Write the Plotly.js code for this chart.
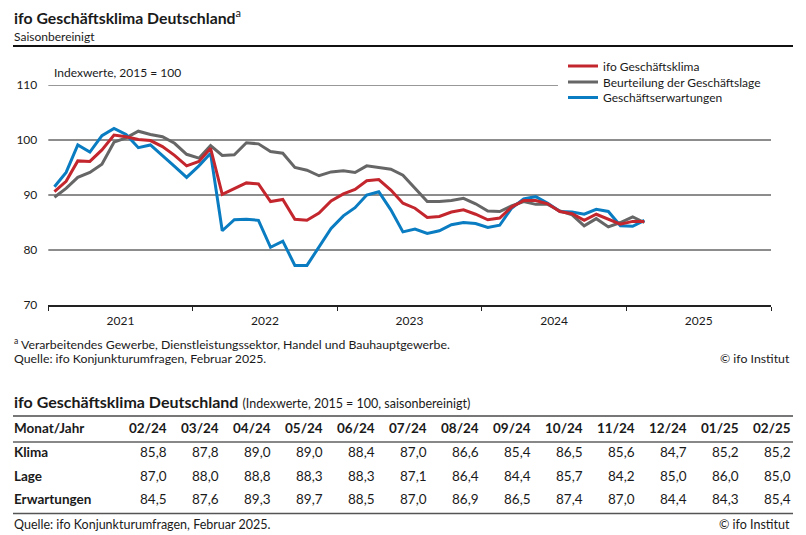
<!DOCTYPE html>
<html>
<head>
<meta charset="utf-8">
<script src="https://cdn.plot.ly/plotly-3.0.1.min.js"></script>
<style>
  html, body { margin: 0; padding: 0; background: #fff; }
  #chart { width: 806px; height: 535px; }
</style>
</head>
<body>
<div id="chart"></div>
<script>
// ---------- DATA ----------
const startYear = 2021;           // first month: Jan 2021
const monthCount = 50;            // through Feb 2025

// Table (Feb 2024 – Feb 2025)
const tableMonths = ["02/24","03/24","04/24","05/24","06/24","07/24","08/24","09/24","10/24","11/24","12/24","01/25","02/25"];
const tableKlima = [85.8, 87.8, 89.0, 89.0, 88.4, 87.0, 86.6, 85.4, 86.5, 85.6, 84.7, 85.2, 85.2];
const tableLage = [87.0, 88.0, 88.8, 88.3, 88.3, 87.1, 86.4, 84.4, 85.7, 84.2, 85.0, 86.0, 85.0];
const tableErwartungen = [84.5, 87.6, 89.3, 89.7, 88.5, 87.0, 86.9, 86.5, 87.4, 87.0, 84.4, 84.3, 85.4];

// Chart series, Jan 2021 – Jan 2024, then the table months
const klimaEarly = [90.6, 92.5, 96.2, 96.1, 98.2, 100.9, 100.6, 100.1, 99.9, 98.8, 97.2, 95.3,
                    96.1, 98.5, 90.1, 91.2, 92.2, 92.0, 88.8, 89.2, 85.6, 85.4, 86.7, 88.9,
                    90.2, 91.0, 92.6, 92.8, 90.9, 88.5, 87.6, 85.9, 86.1, 86.9, 87.3, 86.5,
                    85.5];
const lageEarly = [89.6, 91.2, 93.2, 94.1, 95.6, 99.6, 100.4, 101.6, 101.0, 100.6, 99.4, 97.4,
                   96.7, 99.0, 97.2, 97.3, 99.5, 99.3, 97.9, 97.6, 95.0, 94.5, 93.5, 94.2,
                   94.4, 94.1, 95.3, 95.0, 94.7, 93.6, 91.3, 88.8, 88.8, 89.0, 89.4, 88.4,
                   87.1];
const erwartungenEarly = [91.5, 94.1, 99.1, 97.8, 100.8, 102.1, 101.0, 98.6, 99.1, 97.2, 95.2, 93.2,
                          95.3, 97.6, 83.5, 85.5, 85.6, 85.4, 80.5, 81.6, 77.2, 77.2, 80.6, 83.9,
                          86.2, 87.7, 90.0, 90.6, 87.3, 83.3, 83.8, 83.0, 83.5, 84.6, 85.0, 84.8,
                          84.1];

const klima = klimaEarly.concat(tableKlima);
const lage = lageEarly.concat(tableLage);
const erwartungen = erwartungenEarly.concat(tableErwartungen);

const seriesNames = ["ifo Geschäftsklima", "Beurteilung der Geschäftslage", "Geschäftserwartungen"];
const yTicks = [70, 80, 90, 100, 110];

// ---------- BUILD ----------
const months = [];
for (let i = 0; i < monthCount; i++) {
  const y = startYear + Math.floor(i / 12);
  const m = (i % 12) + 1;
  months.push(y + "-" + (m < 10 ? "0" + m : m) + "-01");
}

const W = 806, H = 535;
const px = x => x / W;
const py = y => 1 - y / H;
const FONT = "Lato";
const INK = "#1a1a1a";

const RED = "#c4262e", GRAY = "#666666", BLUE = "#0a7cc1";

function line(name, ys, color, legendId) {
  return {
    type: "scatter", mode: "lines", name: name,
    x: months, y: ys,
    xperiod: "M1", xperiodalignment: "middle",
    line: { color: color, width: 3 },
    legend: legendId,
    hoverinfo: "skip"
  };
}
const traces = [
  line(seriesNames[1], lage, GRAY, "legend2"),
  line(seriesNames[2], erwartungen, BLUE, "legend3"),
  line(seriesNames[0], klima, RED, "legend")
];

const annotations = [];
function ann(text, x, y, opts) {
  annotations.push(Object.assign({
    text: text, xref: "paper", yref: "paper", x: px(x), y: py(y),
    xanchor: "left", yanchor: "middle", showarrow: false,
    font: { family: FONT, size: 12, color: INK }
  }, opts || {}));
}
const shapes = [];
function hline(x0, x1, y, color, width) {
  shapes.push({ type: "line", xref: "paper", yref: "paper",
    x0: px(x0), x1: px(x1), y0: py(y), y1: py(y),
    line: { color: color, width: width } });
}

// Header
ann("<b>ifo Geschäftsklima Deutschland</b><sup>a</sup>", 12, 16, { font: { family: FONT, size: 15.8, color: INK } });
ann("Saisonbereinigt", 12, 37, { font: { family: FONT, size: 12, color: INK } });
hline(13, 793, 46, "#111", 2);
ann("Indexwerte, 2015 = 100", 52, 72);

// gridlines (y in data coordinates)
[80, 90, 100].forEach(v => shapes.push({ type: "line", xref: "x domain", yref: "y",
  x0: 0, x1: 1, y0: v, y1: v, line: { color: "#1a1a1a", width: 1 }, layer: "below" }));
shapes.push({ type: "line", xref: "x domain", yref: "y", x0: 0, x1: (558 - 48.3) / (771 - 48.3),
  y0: 110, y1: 110, line: { color: "#333", width: 1 }, layer: "below" });

// Footnotes of chart
ann("<sup>a</sup> Verarbeitendes Gewerbe, Dienstleistungssektor, Handel und Bauhauptgewerbe.", 12, 344, { font: { family: FONT, size: 12.3, color: INK } });
ann("Quelle: ifo Konjunkturumfragen, Februar 2025.", 12, 358.5, { font: { family: FONT, size: 12.3, color: INK } });
ann("© ifo Institut", 792, 358.5, { xanchor: "right", font: { family: FONT, size: 12.3, color: INK } });

// Table
ann("<b>ifo Geschäftsklima Deutschland</b> <span style='font-size:12.5px'>(Indexwerte, 2015 = 100, saisonbereinigt)</span>", 12, 401,
    { font: { family: FONT, size: 16, color: INK } });
hline(13, 793, 416, "#777", 2);
hline(13, 793, 442, "#888", 2);
hline(13, 793, 513.5, "#555", 1.5);
const TF = 13.5;
ann("<b>Monat/Jahr</b>", 12, 428, { font: { family: FONT, size: TF, color: INK } });
const rowLabels = ["Klima", "Lage", "Erwartungen"];
const rowData = [tableKlima, tableLage, tableErwartungen];
const rowY = [452, 476, 499];
rowLabels.forEach((r, k) => ann("<b>" + r + "</b>", 12, rowY[k], { font: { family: FONT, size: TF, color: INK } }));
const fmt = v => v.toFixed(1).replace(".", ",");
tableMonths.forEach((m, j) => {
  const xr = 169 + 52 * j;
  ann("<b>" + m + "</b>", xr, 428, { xanchor: "right", font: { family: FONT, size: TF, color: INK } });
  rowData.forEach((arr, k) => ann(fmt(arr[j]), xr, rowY[k], { xanchor: "right", font: { family: FONT, size: TF, color: INK } }));
});
ann("Quelle: ifo Konjunkturumfragen, Februar 2025.", 12, 524, { font: { family: FONT, size: 12.5, color: INK } });
ann("© ifo Institut", 792, 524, { xanchor: "right", font: { family: FONT, size: 12.5, color: INK } });

function legendAt(yc) {
  return {
    x: px(563), y: py(yc), xanchor: "left", yanchor: "middle",
    bgcolor: "rgba(0,0,0,0)", borderwidth: 0,
    font: { family: FONT, size: 12, color: INK }
  };
}

const layout = {
  width: W, height: H,
  margin: { l: 0, r: 0, t: 0, b: 0 },
  paper_bgcolor: "#fff", plot_bgcolor: "#fff",
  font: { family: FONT, size: 12, color: INK },
  showlegend: true,
  legend: legendAt(66),
  legend2: legendAt(82),
  legend3: legendAt(97.5),
  xaxis: {
    type: "date",
    domain: [px(48.3), px(771)],
    range: ["2021-01-01", "2026-01-01"],
    tick0: "2021-01-01", dtick: "M12",
    ticklabelmode: "period", tickformat: "%Y",
    ticks: "outside", ticklen: 4, tickcolor: "#222", tickwidth: 1,
    showline: true, linecolor: "#222", linewidth: 1.5,
    showgrid: false, zeroline: false,
    tickfont: { family: FONT, size: 12, color: INK },
    fixedrange: true
  },
  yaxis: {
    domain: [py(305), py(85)],
    range: [70, 110],
    tickvals: yTicks,
    ticks: "", showgrid: false, zeroline: false, showline: false,
    ticklabelstandoff: 10,
    tickfont: { family: FONT, size: 12, color: INK },
    fixedrange: true
  },
  shapes: shapes,
  annotations: annotations
};

Plotly.newPlot("chart", traces, layout, { displayModeBar: false, staticPlot: true });
</script>
</body>
</html>
